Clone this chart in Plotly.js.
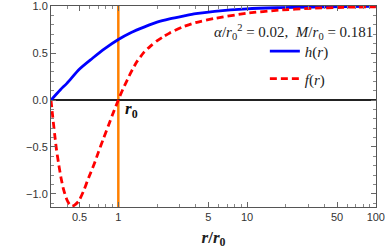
<!DOCTYPE html>
<html>
<head>
<meta charset="utf-8">
<script src="https://cdn.plot.ly/plotly-3.0.1.min.js"></script>
<style>html,body{margin:0;padding:0;background:#fff;}#chart{width:385px;height:250px;}</style>
</head>
<body>
<div id="chart"></div>
<script>
// h(r) samples (x = r/r0)
const hX = [0.3, 0.355, 0.4, 0.5, 0.63, 0.79, 1, 1.26, 1.6, 2, 2.5, 3.2, 4, 5.6, 10, 18, 32, 56, 100];
const hY = [0, 0.11, 0.18, 0.33, 0.445, 0.55, 0.645, 0.72, 0.78, 0.83, 0.865, 0.895, 0.92, 0.945, 0.972, 0.984, 0.991, 0.995, 0.997];
// f(r) samples
const fX = [0.3, 0.309, 0.32, 0.331, 0.343, 0.359, 0.375, 0.398, 0.417, 0.437, 0.457, 0.491, 0.537, 0.587, 0.646, 0.703, 0.767, 0.841, 0.923, 1, 1.084, 1.17, 1.259, 1.396, 1.585, 1.778, 1.995, 2.239, 2.512, 3.162, 3.981, 5.623, 10, 17.78, 31.62, 56.23, 100];
const fY = [0, -0.17, -0.36, -0.53, -0.67, -0.83, -0.95, -1.06, -1.11, -1.13, -1.12, -1.08, -0.97, -0.83, -0.69, -0.55, -0.41, -0.266, -0.12, 0, 0.115, 0.21, 0.30, 0.41, 0.51, 0.575, 0.63, 0.675, 0.715, 0.78, 0.825, 0.87, 0.925, 0.958, 0.977, 0.988, 0.994];
// axes
const xTickVals = [0.5, 1, 5, 10, 50, 100];
const xTickText = ['0.5', '1', '5', '10', '50', '100'];
const xMinorVals = [0.3, 0.4, 0.6, 0.7, 0.8, 0.9, 2, 3, 4, 6, 7, 8, 9, 20, 30, 40, 60, 70, 80, 90];
const yTickVals = [-1, -0.5, 0, 0.5, 1];
const yTickText = ['\u22121.0', '\u22120.5', '0.0', '0.5', '1.0'];
const rHorizon = 1;
const paramText = '<i>\u03b1</i>/<i>r</i><sub>0</sub><sup>2</sup> = 0.02,  <i>M</i>/<i>r</i><sub>0</sub> = 0.181';

const traces = [
  {x: hX, y: hY, type: 'scatter', mode: 'lines', name: '<i>h</i>(<i>r</i>)', legendgroup: 'h',
   line: {color: '#0000FF', width: 2.8, shape: 'spline', smoothing: 0.8}},
  {x: fX, y: fY, type: 'scatter', mode: 'lines', name: '<i>f</i>(<i>r</i>)', legendgroup: 'f',
   line: {color: '#FF0000', width: 2.8, dash: '7px,4px', shape: 'spline', smoothing: 0.6}}
];

const axisCommon = {
  ticks: 'inside', ticklen: 5, tickwidth: 1, tickcolor: '#666',
  showline: true, linecolor: '#555', linewidth: 1, mirror: 'allticks',
  showgrid: false, automargin: false,
  tickfont: {family: 'Liberation Sans', size: 11, color: '#333'}
};

const layout = {
  width: 385, height: 250,
  margin: {l: 51, r: 9, t: 6, b: 43},
  paper_bgcolor: '#fff', plot_bgcolor: '#fff',
  showlegend: true,
  legend: {x: 0.658, y: 0.856, xanchor: 'left', yanchor: 'top', bgcolor: 'rgba(0,0,0,0)',
           font: {family: 'Liberation Serif', size: 15, color: '#222'},
           traceorder: 'grouped', tracegroupgap: 5},
  xaxis: Object.assign({}, axisCommon, {
    type: 'log', range: [Math.log10(0.3), 2.0015],
    tickmode: 'array', tickvals: xTickVals, ticktext: xTickText, zeroline: false,
    minor: {tickmode: 'array', tickvals: xMinorVals, ticks: 'inside', ticklen: 3, tickcolor: '#888'},
    title: {text: '<b><i>r</i>/<i>r</i><sub>0</sub></b>', font: {family: 'Liberation Serif', size: 17, color: '#222'}, standoff: 8}
  }),
  yaxis: Object.assign({}, axisCommon, {
    range: [-1.14, 1.002],
    tickmode: 'array', tickvals: yTickVals, ticktext: yTickText,
    zeroline: true, zerolinecolor: '#222', zerolinewidth: 1.5,
    minor: {dtick: 0.1, ticks: 'inside', ticklen: 3, tickcolor: '#888'}
  }),
  shapes: [
    {type: 'line', xref: 'x', yref: 'paper', x0: rHorizon, x1: rHorizon, y0: 0, y1: 1,
     line: {color: '#FF8000', width: 2.5}, layer: 'below'}
  ],
  annotations: [
    {xref: 'x', yref: 'y', x: Math.log10(rHorizon), y: 0, xanchor: 'left', yanchor: 'top',
     xshift: 5, yshift: 3, showarrow: false,
     text: '<b><i>r</i><sub>0</sub></b>', font: {family: 'Liberation Serif', size: 17, color: '#111'}},
    {xref: 'paper', yref: 'paper', x: 0.997, y: 0.871, xanchor: 'right', yanchor: 'middle', showarrow: false,
     text: paramText, font: {family: 'Liberation Serif', size: 15, color: '#222'}}
  ]
};

Plotly.newPlot('chart', traces, layout, {staticPlot: true, displayModeBar: false});
</script>
</body>
</html>
